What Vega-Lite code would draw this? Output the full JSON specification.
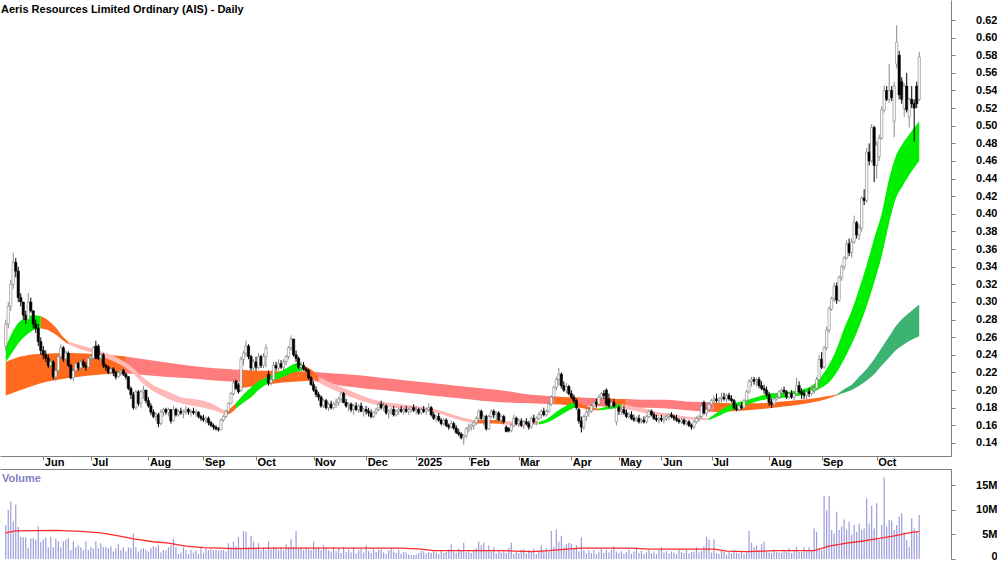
{
"$schema": "https://vega.github.io/schema/vega-lite/v6.json",
"padding": 0,
"background": "white",
"bounds": "flush",
"spacing": 13,
"config": {
  "view": {"stroke": null},
  "font": "Liberation Sans",
  "axis": {"labelFont": "Liberation Sans", "labelFontWeight": "bold", "labelFontSize": 11, "labelColor": "#000000", "domainColor": "#7f7f7f", "tickColor": "#7f7f7f", "grid": false}
},
"datasets": {
"d": [
{"i":0,"o":0.25,"h":0.28,"l":0.245,"c":0.275,"v":6.9},
{"i":1,"o":0.275,"h":0.3,"l":0.27,"c":0.295,"v":10},
{"i":2,"o":0.295,"h":0.325,"l":0.29,"c":0.32,"v":11.6},
{"i":3,"o":0.32,"h":0.356,"l":0.315,"c":0.345,"v":7.6},
{"i":4,"o":0.345,"h":0.35,"l":0.328,"c":0.335,"v":11},
{"i":5,"o":0.335,"h":0.34,"l":0.3,"c":0.305,"v":6.5},
{"i":6,"o":0.305,"h":0.31,"l":0.295,"c":0.3,"v":4.5},
{"i":7,"o":0.3,"h":0.3,"l":0.28,"c":0.285,"v":4.4},
{"i":8,"o":0.285,"h":0.29,"l":0.275,"c":0.28,"v":4.4},
{"i":9,"o":0.28,"h":0.31,"l":0.28,"c":0.3,"v":2.2},
{"i":10,"o":0.3,"h":0.305,"l":0.288,"c":0.29,"v":4.2},
{"i":11,"o":0.29,"h":0.29,"l":0.27,"c":0.275,"v":4.2},
{"i":12,"o":0.275,"h":0.28,"l":0.265,"c":0.27,"v":3.9},
{"i":13,"o":0.27,"h":0.275,"l":0.25,"c":0.255,"v":6.6},
{"i":14,"o":0.255,"h":0.26,"l":0.24,"c":0.245,"v":3.5},
{"i":15,"o":0.245,"h":0.25,"l":0.235,"c":0.24,"v":4},
{"i":16,"o":0.24,"h":0.245,"l":0.232,"c":0.236,"v":4.4},
{"i":17,"o":0.236,"h":0.24,"l":0.225,"c":0.228,"v":2.4},
{"i":18,"o":0.228,"h":0.235,"l":0.225,"c":0.232,"v":4.5},
{"i":19,"o":0.232,"h":0.234,"l":0.212,"c":0.215,"v":2.4},
{"i":20,"o":0.215,"h":0.225,"l":0.21,"c":0.222,"v":4.1},
{"i":21,"o":0.222,"h":0.24,"l":0.22,"c":0.238,"v":3.6},
{"i":22,"o":0.238,"h":0.252,"l":0.235,"c":0.248,"v":2.4},
{"i":23,"o":0.248,"h":0.25,"l":0.232,"c":0.235,"v":3.6},
{"i":24,"o":0.235,"h":0.245,"l":0.232,"c":0.242,"v":3.9},
{"i":25,"o":0.242,"h":0.244,"l":0.226,"c":0.228,"v":4.2},
{"i":26,"o":0.228,"h":0.23,"l":0.212,"c":0.214,"v":1.8},
{"i":27,"o":0.214,"h":0.225,"l":0.21,"c":0.222,"v":3.6},
{"i":28,"o":0.222,"h":0.232,"l":0.22,"c":0.23,"v":2.4},
{"i":29,"o":0.23,"h":0.232,"l":0.222,"c":0.225,"v":2.8},
{"i":30,"o":0.225,"h":0.235,"l":0.222,"c":0.232,"v":2.4},
{"i":31,"o":0.232,"h":0.235,"l":0.225,"c":0.228,"v":1.8},
{"i":32,"o":0.228,"h":0.232,"l":0.222,"c":0.226,"v":3.6},
{"i":33,"o":0.226,"h":0.238,"l":0.224,"c":0.236,"v":1.8},
{"i":34,"o":0.236,"h":0.24,"l":0.23,"c":0.238,"v":2.4},
{"i":35,"o":0.236,"h":0.25,"l":0.234,"c":0.248,"v":2.2},
{"i":36,"o":0.25,"h":0.256,"l":0.235,"c":0.236,"v":3.6},
{"i":37,"o":0.25,"h":0.252,"l":0.234,"c":0.236,"v":2.2},
{"i":38,"o":0.236,"h":0.242,"l":0.232,"c":0.24,"v":3.2},
{"i":39,"o":0.24,"h":0.242,"l":0.225,"c":0.228,"v":2.4},
{"i":40,"o":0.228,"h":0.23,"l":0.222,"c":0.226,"v":2.5},
{"i":41,"o":0.226,"h":0.228,"l":0.218,"c":0.22,"v":2.2},
{"i":42,"o":0.22,"h":0.226,"l":0.218,"c":0.224,"v":2.6},
{"i":43,"o":0.224,"h":0.226,"l":0.216,"c":0.22,"v":1.5},
{"i":44,"o":0.22,"h":0.222,"l":0.212,"c":0.215,"v":2.2},
{"i":45,"o":0.215,"h":0.222,"l":0.214,"c":0.22,"v":3},
{"i":46,"o":0.22,"h":0.224,"l":0.216,"c":0.222,"v":1.8},
{"i":47,"o":0.222,"h":0.224,"l":0.216,"c":0.218,"v":2.4},
{"i":48,"o":0.218,"h":0.22,"l":0.212,"c":0.215,"v":1.5},
{"i":49,"o":0.215,"h":0.216,"l":0.2,"c":0.202,"v":2.4},
{"i":50,"o":0.202,"h":0.204,"l":0.19,"c":0.195,"v":2.2},
{"i":51,"o":0.195,"h":0.198,"l":0.178,"c":0.18,"v":5.1},
{"i":52,"o":0.18,"h":0.2,"l":0.178,"c":0.198,"v":2.4},
{"i":53,"o":0.198,"h":0.2,"l":0.182,"c":0.185,"v":1.5},
{"i":54,"o":0.185,"h":0.2,"l":0.18,"c":0.198,"v":2},
{"i":55,"o":0.198,"h":0.205,"l":0.19,"c":0.2,"v":2.2},
{"i":56,"o":0.2,"h":0.2,"l":0.185,"c":0.188,"v":1.8},
{"i":57,"o":0.188,"h":0.192,"l":0.18,"c":0.182,"v":1.5},
{"i":58,"o":0.182,"h":0.185,"l":0.172,"c":0.175,"v":2.2},
{"i":59,"o":0.175,"h":0.178,"l":0.168,"c":0.17,"v":2.6},
{"i":60,"o":0.17,"h":0.175,"l":0.165,"c":0.172,"v":2.4},
{"i":61,"o":0.172,"h":0.174,"l":0.158,"c":0.162,"v":2.8},
{"i":62,"o":0.162,"h":0.178,"l":0.16,"c":0.175,"v":1.3},
{"i":63,"o":0.175,"h":0.18,"l":0.17,"c":0.178,"v":1.8},
{"i":64,"o":0.178,"h":0.18,"l":0.172,"c":0.175,"v":1.7},
{"i":65,"o":0.175,"h":0.18,"l":0.17,"c":0.178,"v":2.4},
{"i":66,"o":0.178,"h":0.178,"l":0.162,"c":0.165,"v":2.8},
{"i":67,"o":0.165,"h":0.182,"l":0.164,"c":0.178,"v":4.1},
{"i":68,"o":0.178,"h":0.18,"l":0.17,"c":0.172,"v":2.4},
{"i":69,"o":0.172,"h":0.178,"l":0.17,"c":0.176,"v":1},
{"i":70,"o":0.176,"h":0.18,"l":0.172,"c":0.174,"v":1.3},
{"i":71,"o":0.174,"h":0.178,"l":0.168,"c":0.176,"v":2.4},
{"i":72,"o":0.176,"h":0.182,"l":0.172,"c":0.178,"v":1.8},
{"i":73,"o":0.178,"h":0.18,"l":0.172,"c":0.175,"v":1},
{"i":74,"o":0.175,"h":0.178,"l":0.17,"c":0.176,"v":1.8},
{"i":75,"o":0.176,"h":0.18,"l":0.172,"c":0.174,"v":1.3},
{"i":76,"o":0.174,"h":0.178,"l":0.17,"c":0.175,"v":1.7},
{"i":77,"o":0.175,"h":0.176,"l":0.168,"c":0.17,"v":1},
{"i":78,"o":0.17,"h":0.172,"l":0.165,"c":0.168,"v":2.2},
{"i":79,"o":0.168,"h":0.172,"l":0.164,"c":0.166,"v":1.3},
{"i":80,"o":0.166,"h":0.17,"l":0.162,"c":0.168,"v":2.2},
{"i":81,"o":0.168,"h":0.17,"l":0.16,"c":0.163,"v":1.8},
{"i":82,"o":0.163,"h":0.165,"l":0.158,"c":0.16,"v":2},
{"i":83,"o":0.16,"h":0.162,"l":0.155,"c":0.158,"v":1.8},
{"i":84,"o":0.158,"h":0.16,"l":0.154,"c":0.156,"v":1.8},
{"i":85,"o":0.156,"h":0.158,"l":0.153,"c":0.155,"v":1.7},
{"i":86,"o":0.155,"h":0.168,"l":0.155,"c":0.166,"v":1.8},
{"i":87,"o":0.166,"h":0.172,"l":0.164,"c":0.17,"v":1.8},
{"i":88,"o":0.17,"h":0.178,"l":0.168,"c":0.176,"v":1.5},
{"i":89,"o":0.176,"h":0.186,"l":0.174,"c":0.185,"v":3.2},
{"i":90,"o":0.185,"h":0.198,"l":0.184,"c":0.196,"v":2.4},
{"i":91,"o":0.196,"h":0.212,"l":0.194,"c":0.208,"v":3.5},
{"i":92,"o":0.21,"h":0.212,"l":0.2,"c":0.202,"v":2.6},
{"i":93,"o":0.206,"h":0.208,"l":0.196,"c":0.198,"v":4.5},
{"i":94,"o":0.2,"h":0.238,"l":0.198,"c":0.235,"v":2.2},
{"i":95,"o":0.235,"h":0.245,"l":0.228,"c":0.242,"v":5.7},
{"i":96,"o":0.242,"h":0.256,"l":0.238,"c":0.25,"v":5.5},
{"i":97,"o":0.25,"h":0.252,"l":0.235,"c":0.238,"v":2.4},
{"i":98,"o":0.238,"h":0.24,"l":0.222,"c":0.225,"v":4.7},
{"i":99,"o":0.225,"h":0.235,"l":0.222,"c":0.232,"v":3.5},
{"i":100,"o":0.232,"h":0.238,"l":0.222,"c":0.226,"v":2.4},
{"i":101,"o":0.226,"h":0.242,"l":0.224,"c":0.238,"v":3.2},
{"i":102,"o":0.238,"h":0.24,"l":0.225,"c":0.228,"v":1.8},
{"i":103,"o":0.228,"h":0.242,"l":0.225,"c":0.238,"v":2.4},
{"i":104,"o":0.238,"h":0.252,"l":0.226,"c":0.248,"v":1.7},
{"i":105,"o":0.218,"h":0.222,"l":0.205,"c":0.208,"v":3.6},
{"i":106,"o":0.208,"h":0.215,"l":0.205,"c":0.212,"v":2},
{"i":107,"o":0.212,"h":0.232,"l":0.21,"c":0.228,"v":2.4},
{"i":108,"o":0.228,"h":0.232,"l":0.222,"c":0.225,"v":2.2},
{"i":109,"o":0.225,"h":0.235,"l":0.222,"c":0.23,"v":1.8},
{"i":110,"o":0.23,"h":0.234,"l":0.224,"c":0.226,"v":2.4},
{"i":111,"o":0.226,"h":0.235,"l":0.222,"c":0.232,"v":1.8},
{"i":112,"o":0.232,"h":0.24,"l":0.228,"c":0.238,"v":3},
{"i":113,"o":0.238,"h":0.25,"l":0.235,"c":0.248,"v":2.4},
{"i":114,"o":0.248,"h":0.262,"l":0.245,"c":0.258,"v":4},
{"i":115,"o":0.258,"h":0.258,"l":0.238,"c":0.24,"v":2.4},
{"i":116,"o":0.24,"h":0.245,"l":0.232,"c":0.236,"v":5.7},
{"i":117,"o":0.236,"h":0.238,"l":0.224,"c":0.226,"v":2.2},
{"i":118,"o":0.226,"h":0.232,"l":0.22,"c":0.228,"v":2.4},
{"i":119,"o":0.228,"h":0.232,"l":0.222,"c":0.224,"v":1.8},
{"i":120,"o":0.224,"h":0.226,"l":0.22,"c":0.222,"v":2.4},
{"i":121,"o":0.222,"h":0.224,"l":0.212,"c":0.214,"v":2},
{"i":122,"o":0.214,"h":0.216,"l":0.205,"c":0.206,"v":1.8},
{"i":123,"o":0.206,"h":0.21,"l":0.198,"c":0.2,"v":3.5},
{"i":124,"o":0.2,"h":0.204,"l":0.192,"c":0.195,"v":2.2},
{"i":125,"o":0.195,"h":0.198,"l":0.188,"c":0.192,"v":2.4},
{"i":126,"o":0.192,"h":0.194,"l":0.18,"c":0.182,"v":1.8},
{"i":127,"o":0.182,"h":0.19,"l":0.18,"c":0.188,"v":2.8},
{"i":128,"o":0.188,"h":0.19,"l":0.178,"c":0.18,"v":2.4},
{"i":129,"o":0.18,"h":0.186,"l":0.176,"c":0.184,"v":1.8},
{"i":130,"o":0.184,"h":0.188,"l":0.178,"c":0.18,"v":1.5},
{"i":131,"o":0.18,"h":0.186,"l":0.178,"c":0.184,"v":2.4},
{"i":132,"o":0.184,"h":0.19,"l":0.18,"c":0.186,"v":1.6},
{"i":133,"o":0.186,"h":0.192,"l":0.182,"c":0.19,"v":2.1},
{"i":134,"o":0.19,"h":0.198,"l":0.186,"c":0.196,"v":1.2},
{"i":135,"o":0.196,"h":0.198,"l":0.185,"c":0.186,"v":2.5},
{"i":136,"o":0.186,"h":0.19,"l":0.18,"c":0.182,"v":1.4},
{"i":137,"o":0.182,"h":0.186,"l":0.176,"c":0.184,"v":1.9},
{"i":138,"o":0.184,"h":0.186,"l":0.175,"c":0.178,"v":1.3},
{"i":139,"o":0.178,"h":0.184,"l":0.172,"c":0.182,"v":2.4},
{"i":140,"o":0.182,"h":0.186,"l":0.176,"c":0.178,"v":1.1},
{"i":141,"o":0.178,"h":0.184,"l":0.174,"c":0.182,"v":1.8},
{"i":142,"o":0.182,"h":0.186,"l":0.175,"c":0.176,"v":2.1},
{"i":143,"o":0.176,"h":0.18,"l":0.17,"c":0.178,"v":1.3},
{"i":144,"o":0.178,"h":0.182,"l":0.172,"c":0.176,"v":2.8},
{"i":145,"o":0.176,"h":0.18,"l":0.17,"c":0.174,"v":1.6},
{"i":146,"o":0.174,"h":0.178,"l":0.168,"c":0.17,"v":1.2},
{"i":147,"o":0.17,"h":0.176,"l":0.168,"c":0.175,"v":2},
{"i":148,"o":0.175,"h":0.18,"l":0.172,"c":0.178,"v":1.4},
{"i":149,"o":0.178,"h":0.186,"l":0.176,"c":0.184,"v":1.8},
{"i":150,"o":0.184,"h":0.188,"l":0.178,"c":0.18,"v":2},
{"i":151,"o":0.18,"h":0.186,"l":0.176,"c":0.182,"v":1.3},
{"i":152,"o":0.182,"h":0.184,"l":0.172,"c":0.174,"v":1},
{"i":153,"o":0.174,"h":0.178,"l":0.168,"c":0.176,"v":1.7},
{"i":154,"o":0.176,"h":0.18,"l":0.172,"c":0.178,"v":2.2},
{"i":155,"o":0.178,"h":0.182,"l":0.17,"c":0.172,"v":1.5},
{"i":156,"o":0.172,"h":0.178,"l":0.17,"c":0.176,"v":1.2},
{"i":157,"o":0.176,"h":0.18,"l":0.172,"c":0.178,"v":1.9},
{"i":158,"o":0.178,"h":0.182,"l":0.174,"c":0.176,"v":1.1},
{"i":159,"o":0.176,"h":0.18,"l":0.172,"c":0.178,"v":1.4},
{"i":160,"o":0.178,"h":0.182,"l":0.174,"c":0.176,"v":1.3},
{"i":161,"o":0.176,"h":0.18,"l":0.172,"c":0.178,"v":0.9},
{"i":162,"o":0.178,"h":0.182,"l":0.174,"c":0.18,"v":0.8},
{"i":163,"o":0.18,"h":0.184,"l":0.175,"c":0.177,"v":0.8},
{"i":164,"o":0.177,"h":0.182,"l":0.172,"c":0.178,"v":0.9},
{"i":165,"o":0.178,"h":0.18,"l":0.172,"c":0.174,"v":1.2},
{"i":166,"o":0.174,"h":0.18,"l":0.172,"c":0.178,"v":1.6},
{"i":167,"o":0.178,"h":0.182,"l":0.174,"c":0.176,"v":1.5},
{"i":168,"o":0.176,"h":0.18,"l":0.172,"c":0.178,"v":1.1},
{"i":169,"o":0.178,"h":0.185,"l":0.176,"c":0.18,"v":1.4},
{"i":170,"o":0.18,"h":0.182,"l":0.17,"c":0.172,"v":1.2},
{"i":171,"o":0.172,"h":0.175,"l":0.166,"c":0.168,"v":1.7},
{"i":172,"o":0.168,"h":0.172,"l":0.164,"c":0.17,"v":1.3},
{"i":173,"o":0.17,"h":0.174,"l":0.164,"c":0.166,"v":1},
{"i":174,"o":0.166,"h":0.168,"l":0.16,"c":0.162,"v":1.8},
{"i":175,"o":0.162,"h":0.168,"l":0.16,"c":0.166,"v":1.2},
{"i":176,"o":0.166,"h":0.168,"l":0.158,"c":0.16,"v":1.4},
{"i":177,"o":0.16,"h":0.162,"l":0.155,"c":0.158,"v":2},
{"i":178,"o":0.158,"h":0.165,"l":0.156,"c":0.162,"v":3},
{"i":179,"o":0.162,"h":0.164,"l":0.155,"c":0.157,"v":1.5},
{"i":180,"o":0.157,"h":0.16,"l":0.15,"c":0.152,"v":1.2},
{"i":181,"o":0.152,"h":0.156,"l":0.148,"c":0.15,"v":2.1},
{"i":182,"o":0.15,"h":0.152,"l":0.144,"c":0.146,"v":1.6},
{"i":183,"o":0.146,"h":0.15,"l":0.138,"c":0.148,"v":3.3},
{"i":184,"o":0.148,"h":0.158,"l":0.146,"c":0.156,"v":1.4},
{"i":185,"o":0.156,"h":0.162,"l":0.152,"c":0.158,"v":1.9},
{"i":186,"o":0.158,"h":0.162,"l":0.154,"c":0.16,"v":1.2},
{"i":187,"o":0.16,"h":0.165,"l":0.155,"c":0.163,"v":1.8},
{"i":188,"o":0.163,"h":0.17,"l":0.16,"c":0.168,"v":2.2},
{"i":189,"o":0.168,"h":0.178,"l":0.164,"c":0.176,"v":3.5},
{"i":190,"o":0.176,"h":0.178,"l":0.166,"c":0.168,"v":2.8},
{"i":191,"o":0.168,"h":0.172,"l":0.16,"c":0.17,"v":3.3},
{"i":192,"o":0.17,"h":0.172,"l":0.154,"c":0.156,"v":1.6},
{"i":193,"o":0.156,"h":0.172,"l":0.155,"c":0.17,"v":2.8},
{"i":194,"o":0.17,"h":0.178,"l":0.168,"c":0.176,"v":1.5},
{"i":195,"o":0.176,"h":0.178,"l":0.168,"c":0.172,"v":2.4},
{"i":196,"o":0.172,"h":0.176,"l":0.166,"c":0.174,"v":1.1},
{"i":197,"o":0.174,"h":0.176,"l":0.165,"c":0.166,"v":1.6},
{"i":198,"o":0.166,"h":0.172,"l":0.164,"c":0.17,"v":1.3},
{"i":199,"o":0.17,"h":0.172,"l":0.162,"c":0.164,"v":1.8},
{"i":200,"o":0.158,"h":0.16,"l":0.152,"c":0.153,"v":1.2},
{"i":201,"o":0.156,"h":0.158,"l":0.152,"c":0.154,"v":2.3},
{"i":202,"o":0.154,"h":0.162,"l":0.152,"c":0.16,"v":3.3},
{"i":203,"o":0.16,"h":0.172,"l":0.158,"c":0.168,"v":1},
{"i":204,"o":0.168,"h":0.17,"l":0.16,"c":0.162,"v":1.5},
{"i":205,"o":0.162,"h":0.168,"l":0.158,"c":0.165,"v":1.2},
{"i":206,"o":0.165,"h":0.168,"l":0.158,"c":0.16,"v":1.8},
{"i":207,"o":0.16,"h":0.166,"l":0.156,"c":0.164,"v":2},
{"i":208,"o":0.164,"h":0.168,"l":0.16,"c":0.162,"v":1.1},
{"i":209,"o":0.162,"h":0.165,"l":0.155,"c":0.158,"v":1.8},
{"i":210,"o":0.158,"h":0.17,"l":0.156,"c":0.168,"v":1.4},
{"i":211,"o":0.168,"h":0.172,"l":0.162,"c":0.164,"v":2.1},
{"i":212,"o":0.164,"h":0.17,"l":0.16,"c":0.168,"v":1},
{"i":213,"o":0.168,"h":0.175,"l":0.166,"c":0.172,"v":1.6},
{"i":214,"o":0.172,"h":0.178,"l":0.168,"c":0.176,"v":2.8},
{"i":215,"o":0.176,"h":0.18,"l":0.17,"c":0.172,"v":1.6},
{"i":216,"o":0.172,"h":0.178,"l":0.17,"c":0.176,"v":2.2},
{"i":217,"o":0.176,"h":0.186,"l":0.174,"c":0.184,"v":1.5},
{"i":218,"o":0.184,"h":0.194,"l":0.182,"c":0.192,"v":5.7},
{"i":219,"o":0.192,"h":0.205,"l":0.19,"c":0.203,"v":2.5},
{"i":220,"o":0.203,"h":0.215,"l":0.2,"c":0.212,"v":6},
{"i":221,"o":0.212,"h":0.225,"l":0.205,"c":0.218,"v":3.5},
{"i":222,"o":0.218,"h":0.22,"l":0.202,"c":0.205,"v":4.7},
{"i":223,"o":0.205,"h":0.21,"l":0.198,"c":0.2,"v":2.4},
{"i":224,"o":0.2,"h":0.208,"l":0.196,"c":0.204,"v":3},
{"i":225,"o":0.204,"h":0.206,"l":0.194,"c":0.196,"v":3.3},
{"i":226,"o":0.196,"h":0.2,"l":0.19,"c":0.192,"v":3.1},
{"i":227,"o":0.192,"h":0.195,"l":0.185,"c":0.188,"v":2.2},
{"i":228,"o":0.188,"h":0.19,"l":0.178,"c":0.18,"v":2.8},
{"i":229,"o":0.178,"h":0.18,"l":0.162,"c":0.165,"v":1.5},
{"i":230,"o":0.165,"h":0.17,"l":0.152,"c":0.158,"v":4.4},
{"i":231,"o":0.158,"h":0.172,"l":0.155,"c":0.17,"v":1.8},
{"i":232,"o":0.17,"h":0.178,"l":0.165,"c":0.175,"v":1.1},
{"i":233,"o":0.175,"h":0.18,"l":0.17,"c":0.176,"v":1.7},
{"i":234,"o":0.176,"h":0.184,"l":0.174,"c":0.182,"v":1.2},
{"i":235,"o":0.182,"h":0.188,"l":0.178,"c":0.186,"v":1.9},
{"i":236,"o":0.186,"h":0.19,"l":0.18,"c":0.184,"v":1},
{"i":237,"o":0.184,"h":0.195,"l":0.182,"c":0.192,"v":1.5},
{"i":238,"o":0.192,"h":0.198,"l":0.188,"c":0.196,"v":2.1},
{"i":239,"o":0.196,"h":0.2,"l":0.19,"c":0.194,"v":1.2},
{"i":240,"o":0.2,"h":0.202,"l":0.182,"c":0.184,"v":1.8},
{"i":241,"o":0.19,"h":0.196,"l":0.18,"c":0.182,"v":1.3},
{"i":242,"o":0.182,"h":0.188,"l":0.178,"c":0.186,"v":1.8},
{"i":243,"o":0.186,"h":0.19,"l":0.18,"c":0.182,"v":2.6},
{"i":244,"o":0.164,"h":0.182,"l":0.16,"c":0.18,"v":1.5},
{"i":245,"o":0.18,"h":0.182,"l":0.172,"c":0.176,"v":1.2},
{"i":246,"o":0.176,"h":0.18,"l":0.172,"c":0.178,"v":1.6},
{"i":247,"o":0.178,"h":0.182,"l":0.172,"c":0.174,"v":1},
{"i":248,"o":0.174,"h":0.178,"l":0.168,"c":0.17,"v":1.4},
{"i":249,"o":0.17,"h":0.175,"l":0.168,"c":0.172,"v":1.9},
{"i":250,"o":0.172,"h":0.176,"l":0.166,"c":0.168,"v":1.1},
{"i":251,"o":0.168,"h":0.172,"l":0.164,"c":0.166,"v":1.5},
{"i":252,"o":0.166,"h":0.17,"l":0.164,"c":0.168,"v":2.4},
{"i":253,"o":0.168,"h":0.172,"l":0.162,"c":0.164,"v":1.2},
{"i":254,"o":0.164,"h":0.168,"l":0.162,"c":0.166,"v":1.7},
{"i":255,"o":0.166,"h":0.17,"l":0.162,"c":0.164,"v":1},
{"i":256,"o":0.164,"h":0.172,"l":0.162,"c":0.17,"v":1.4},
{"i":257,"o":0.17,"h":0.178,"l":0.168,"c":0.176,"v":1.8},
{"i":258,"o":0.176,"h":0.178,"l":0.17,"c":0.172,"v":1.2},
{"i":259,"o":0.172,"h":0.175,"l":0.166,"c":0.168,"v":1.5},
{"i":260,"o":0.168,"h":0.172,"l":0.164,"c":0.166,"v":1},
{"i":261,"o":0.166,"h":0.17,"l":0.162,"c":0.168,"v":1.8},
{"i":262,"o":0.168,"h":0.172,"l":0.164,"c":0.166,"v":2.4},
{"i":263,"o":0.166,"h":0.17,"l":0.162,"c":0.168,"v":1.3},
{"i":264,"o":0.168,"h":0.172,"l":0.165,"c":0.17,"v":1.6},
{"i":265,"o":0.17,"h":0.174,"l":0.166,"c":0.172,"v":1.1},
{"i":266,"o":0.172,"h":0.175,"l":0.168,"c":0.17,"v":1.5},
{"i":267,"o":0.17,"h":0.172,"l":0.165,"c":0.168,"v":1.3},
{"i":268,"o":0.168,"h":0.172,"l":0.164,"c":0.166,"v":1},
{"i":269,"o":0.166,"h":0.168,"l":0.162,"c":0.164,"v":2},
{"i":270,"o":0.164,"h":0.168,"l":0.162,"c":0.166,"v":1.4},
{"i":271,"o":0.166,"h":0.168,"l":0.16,"c":0.162,"v":1.2},
{"i":272,"o":0.162,"h":0.166,"l":0.16,"c":0.164,"v":1.8},
{"i":273,"o":0.164,"h":0.166,"l":0.158,"c":0.16,"v":1.1},
{"i":274,"o":0.16,"h":0.162,"l":0.155,"c":0.158,"v":1.4},
{"i":275,"o":0.158,"h":0.166,"l":0.156,"c":0.164,"v":1.5},
{"i":276,"o":0.164,"h":0.17,"l":0.162,"c":0.168,"v":2.4},
{"i":277,"o":0.168,"h":0.172,"l":0.164,"c":0.17,"v":1.3},
{"i":278,"o":0.17,"h":0.186,"l":0.168,"c":0.182,"v":1.6},
{"i":279,"o":0.186,"h":0.188,"l":0.172,"c":0.174,"v":2.6},
{"i":280,"o":0.174,"h":0.18,"l":0.17,"c":0.178,"v":4.5},
{"i":281,"o":0.178,"h":0.186,"l":0.176,"c":0.184,"v":3.9},
{"i":282,"o":0.184,"h":0.19,"l":0.18,"c":0.188,"v":1.3},
{"i":283,"o":0.188,"h":0.194,"l":0.184,"c":0.19,"v":4},
{"i":284,"o":0.19,"h":0.196,"l":0.186,"c":0.188,"v":1.2},
{"i":285,"o":0.188,"h":0.192,"l":0.184,"c":0.19,"v":1},
{"i":286,"o":0.19,"h":0.197,"l":0.186,"c":0.192,"v":1.8},
{"i":287,"o":0.192,"h":0.197,"l":0.188,"c":0.19,"v":1.4},
{"i":288,"o":0.19,"h":0.196,"l":0.186,"c":0.194,"v":0.9},
{"i":289,"o":0.194,"h":0.197,"l":0.188,"c":0.19,"v":1.5},
{"i":290,"o":0.19,"h":0.194,"l":0.186,"c":0.188,"v":1.2},
{"i":291,"o":0.188,"h":0.19,"l":0.178,"c":0.18,"v":1.8},
{"i":292,"o":0.18,"h":0.184,"l":0.176,"c":0.178,"v":1.3},
{"i":293,"o":0.178,"h":0.184,"l":0.176,"c":0.182,"v":1.1},
{"i":294,"o":0.182,"h":0.186,"l":0.178,"c":0.18,"v":1.6},
{"i":295,"o":0.18,"h":0.19,"l":0.178,"c":0.188,"v":1},
{"i":296,"o":0.188,"h":0.2,"l":0.186,"c":0.198,"v":1.4},
{"i":297,"o":0.198,"h":0.212,"l":0.196,"c":0.21,"v":5.7},
{"i":298,"o":0.21,"h":0.215,"l":0.204,"c":0.212,"v":3.3},
{"i":299,"o":0.212,"h":0.215,"l":0.206,"c":0.21,"v":2.4},
{"i":300,"o":0.21,"h":0.214,"l":0.204,"c":0.212,"v":2.8},
{"i":301,"o":0.212,"h":0.215,"l":0.202,"c":0.205,"v":1.8},
{"i":302,"o":0.205,"h":0.21,"l":0.2,"c":0.202,"v":3},
{"i":303,"o":0.202,"h":0.206,"l":0.196,"c":0.2,"v":3.5},
{"i":304,"o":0.2,"h":0.204,"l":0.192,"c":0.195,"v":1.5},
{"i":305,"o":0.195,"h":0.198,"l":0.182,"c":0.186,"v":1.3},
{"i":306,"o":0.186,"h":0.19,"l":0.18,"c":0.184,"v":1.2},
{"i":307,"o":0.184,"h":0.192,"l":0.182,"c":0.19,"v":1.9},
{"i":308,"o":0.19,"h":0.196,"l":0.188,"c":0.192,"v":1.4},
{"i":309,"o":0.192,"h":0.2,"l":0.19,"c":0.198,"v":1.3},
{"i":310,"o":0.198,"h":0.202,"l":0.194,"c":0.2,"v":1.3},
{"i":311,"o":0.2,"h":0.204,"l":0.196,"c":0.198,"v":1.9},
{"i":312,"o":0.198,"h":0.2,"l":0.19,"c":0.192,"v":1.5},
{"i":313,"o":0.192,"h":0.198,"l":0.19,"c":0.196,"v":2.2},
{"i":314,"o":0.196,"h":0.2,"l":0.19,"c":0.192,"v":1.2},
{"i":315,"o":0.192,"h":0.198,"l":0.188,"c":0.196,"v":1.9},
{"i":316,"o":0.196,"h":0.214,"l":0.194,"c":0.205,"v":2.4},
{"i":317,"o":0.205,"h":0.21,"l":0.196,"c":0.198,"v":1.4},
{"i":318,"o":0.198,"h":0.202,"l":0.19,"c":0.196,"v":1.4},
{"i":319,"o":0.196,"h":0.2,"l":0.19,"c":0.194,"v":2.4},
{"i":320,"o":0.194,"h":0.2,"l":0.19,"c":0.198,"v":1.6},
{"i":321,"o":0.198,"h":0.202,"l":0.192,"c":0.196,"v":2.4},
{"i":322,"o":0.196,"h":0.205,"l":0.194,"c":0.2,"v":1.9},
{"i":323,"o":0.2,"h":0.206,"l":0.196,"c":0.202,"v":6.2},
{"i":324,"o":0.202,"h":0.215,"l":0.2,"c":0.212,"v":5.5},
{"i":325,"o":0.212,"h":0.24,"l":0.21,"c":0.235,"v":2.2},
{"i":326,"o":0.235,"h":0.243,"l":0.224,"c":0.226,"v":1.8},
{"i":327,"o":0.226,"h":0.25,"l":0.224,"c":0.248,"v":12.8},
{"i":328,"o":0.248,"h":0.272,"l":0.245,"c":0.268,"v":9.9},
{"i":329,"o":0.268,"h":0.295,"l":0.265,"c":0.292,"v":12.8},
{"i":330,"o":0.292,"h":0.306,"l":0.29,"c":0.304,"v":5.9},
{"i":331,"o":0.304,"h":0.322,"l":0.3,"c":0.318,"v":5.2},
{"i":332,"o":0.318,"h":0.322,"l":0.298,"c":0.302,"v":9.6},
{"i":333,"o":0.302,"h":0.33,"l":0.3,"c":0.328,"v":5.9},
{"i":334,"o":0.328,"h":0.342,"l":0.324,"c":0.34,"v":6.6},
{"i":335,"o":0.34,"h":0.352,"l":0.336,"c":0.35,"v":8},
{"i":336,"o":0.35,"h":0.37,"l":0.348,"c":0.366,"v":5.9},
{"i":337,"o":0.366,"h":0.372,"l":0.352,"c":0.356,"v":7.6},
{"i":338,"o":0.356,"h":0.372,"l":0.35,"c":0.368,"v":4.9},
{"i":339,"o":0.368,"h":0.398,"l":0.366,"c":0.39,"v":6.9},
{"i":340,"o":0.39,"h":0.392,"l":0.372,"c":0.376,"v":5.5},
{"i":341,"o":0.376,"h":0.388,"l":0.37,"c":0.384,"v":7.2},
{"i":342,"o":0.384,"h":0.42,"l":0.38,"c":0.418,"v":5.9},
{"i":343,"o":0.418,"h":0.428,"l":0.41,"c":0.415,"v":6.2},
{"i":344,"o":0.415,"h":0.475,"l":0.412,"c":0.47,"v":12.3},
{"i":345,"o":0.47,"h":0.48,"l":0.455,"c":0.46,"v":7.2},
{"i":346,"o":0.46,"h":0.502,"l":0.458,"c":0.498,"v":10.8},
{"i":347,"o":0.498,"h":0.5,"l":0.436,"c":0.455,"v":6.2},
{"i":348,"o":0.455,"h":0.482,"l":0.44,"c":0.478,"v":11.3},
{"i":349,"o":0.465,"h":0.49,"l":0.46,"c":0.486,"v":3.9},
{"i":350,"o":0.486,"h":0.522,"l":0.484,"c":0.518,"v":6.9},
{"i":351,"o":0.518,"h":0.546,"l":0.515,"c":0.54,"v":16.6},
{"i":352,"o":0.54,"h":0.545,"l":0.528,"c":0.53,"v":6.6},
{"i":353,"o":0.53,"h":0.57,"l":0.526,"c":0.54,"v":7.9},
{"i":354,"o":0.54,"h":0.545,"l":0.528,"c":0.532,"v":7.8},
{"i":355,"o":0.505,"h":0.55,"l":0.487,"c":0.545,"v":5.9},
{"i":356,"o":0.57,"h":0.614,"l":0.565,"c":0.595,"v":6.9},
{"i":357,"o":0.58,"h":0.585,"l":0.53,"c":0.535,"v":8.6},
{"i":358,"o":0.55,"h":0.555,"l":0.525,"c":0.53,"v":9.3},
{"i":359,"o":0.52,"h":0.548,"l":0.51,"c":0.545,"v":5.5},
{"i":360,"o":0.545,"h":0.56,"l":0.515,"c":0.518,"v":3.9},
{"i":361,"o":0.51,"h":0.532,"l":0.498,"c":0.53,"v":2.4},
{"i":362,"o":0.53,"h":0.545,"l":0.52,"c":0.525,"v":8.2},
{"i":363,"o":0.525,"h":0.53,"l":0.482,"c":0.52,"v":6.2},
{"i":364,"o":0.545,"h":0.55,"l":0.52,"c":0.525,"v":5.5},
{"i":365,"o":0.53,"h":0.584,"l":0.528,"c":0.578,"v":8.9}
],
"lt": [
{"i":0,"lo":0.194,"hi":0.232,"k":"o","s":"L1"},{"i":6,"lo":0.2,"hi":0.238,"k":"o","s":"L1"},{"i":13,"lo":0.207,"hi":0.241,"k":"o","s":"L1"},{"i":26,"lo":0.214,"hi":0.242,"k":"o","s":"L1"},{"i":39,"lo":0.218,"hi":0.24,"k":"o","s":"L1"},{"i":48,"lo":0.219,"hi":0.238,"k":"o","s":"L1"},
{"i":48,"lo":0.219,"hi":0.238,"k":"s","s":"L2"},{"i":60,"lo":0.216,"hi":0.233,"k":"s","s":"L2"},{"i":70,"lo":0.214,"hi":0.229,"k":"s","s":"L2"},{"i":79,"lo":0.212,"hi":0.226,"k":"s","s":"L2"},{"i":88,"lo":0.21,"hi":0.224,"k":"s","s":"L2"},{"i":94,"lo":0.209,"hi":0.223,"k":"s","s":"L2"},
{"i":94,"lo":0.202,"hi":0.223,"k":"o","s":"L3"},{"i":100,"lo":0.205,"hi":0.222,"k":"o","s":"L3"},{"i":106,"lo":0.207,"hi":0.222,"k":"o","s":"L3"},{"i":112,"lo":0.209,"hi":0.221,"k":"o","s":"L3"},{"i":118,"lo":0.21,"hi":0.221,"k":"o","s":"L3"},{"i":122,"lo":0.211,"hi":0.221,"k":"o","s":"L3"},
{"i":122,"lo":0.211,"hi":0.221,"k":"s","s":"L4"},{"i":130,"lo":0.207,"hi":0.219,"k":"s","s":"L4"},{"i":140,"lo":0.203,"hi":0.217,"k":"s","s":"L4"},{"i":150,"lo":0.2,"hi":0.214,"k":"s","s":"L4"},{"i":160,"lo":0.197,"hi":0.211,"k":"s","s":"L4"},{"i":170,"lo":0.194,"hi":0.208,"k":"s","s":"L4"},{"i":180,"lo":0.191,"hi":0.205,"k":"s","s":"L4"},{"i":190,"lo":0.188,"hi":0.202,"k":"s","s":"L4"},{"i":200,"lo":0.186,"hi":0.199,"k":"s","s":"L4"},{"i":209,"lo":0.185,"hi":0.195,"k":"s","s":"L4"},{"i":219,"lo":0.184,"hi":0.193,"k":"s","s":"L4"},
{"i":219,"lo":0.184,"hi":0.193,"k":"o","s":"L5"},{"i":224,"lo":0.183,"hi":0.192,"k":"o","s":"L5"},{"i":229,"lo":0.181,"hi":0.192,"k":"o","s":"L5"},
{"i":229,"lo":0.182,"hi":0.192,"k":"s","s":"L6"},{"i":234,"lo":0.182,"hi":0.191,"k":"s","s":"L6"},{"i":240,"lo":0.181,"hi":0.191,"k":"s","s":"L6"},
{"i":240,"lo":0.181,"hi":0.191,"k":"o","s":"L7"},{"i":244,"lo":0.18,"hi":0.19,"k":"o","s":"L7"},{"i":248,"lo":0.18,"hi":0.19,"k":"o","s":"L7"},
{"i":248,"lo":0.18,"hi":0.19,"k":"s","s":"L8"},{"i":256,"lo":0.18,"hi":0.189,"k":"s","s":"L8"},{"i":264,"lo":0.179,"hi":0.189,"k":"s","s":"L8"},{"i":272,"lo":0.177,"hi":0.187,"k":"s","s":"L8"},{"i":283,"lo":0.175,"hi":0.186,"k":"s","s":"L8"},
{"i":283,"lo":0.175,"hi":0.186,"k":"o","s":"L9"},{"i":290,"lo":0.176,"hi":0.185,"k":"o","s":"L9"},{"i":300,"lo":0.178,"hi":0.185,"k":"o","s":"L9"},{"i":310,"lo":0.181,"hi":0.187,"k":"o","s":"L9"},{"i":318,"lo":0.184,"hi":0.189,"k":"o","s":"L9"},{"i":324,"lo":0.187,"hi":0.191,"k":"o","s":"L9"},{"i":328,"lo":0.19,"hi":0.193,"k":"o","s":"L9"},{"i":332,"lo":0.194,"hi":0.195,"k":"o","s":"L9"},
{"i":332,"lo":0.194,"hi":0.195,"k":"d","s":"L10"},{"i":335,"lo":0.197,"hi":0.201,"k":"d","s":"L10"},{"i":338,"lo":0.2,"hi":0.206,"k":"d","s":"L10"},{"i":341,"lo":0.205,"hi":0.215,"k":"d","s":"L10"},{"i":344,"lo":0.211,"hi":0.224,"k":"d","s":"L10"},{"i":347,"lo":0.218,"hi":0.235,"k":"d","s":"L10"},{"i":350,"lo":0.228,"hi":0.248,"k":"d","s":"L10"},{"i":353,"lo":0.237,"hi":0.261,"k":"d","s":"L10"},{"i":356,"lo":0.246,"hi":0.274,"k":"d","s":"L10"},{"i":359,"lo":0.252,"hi":0.283,"k":"d","s":"L10"},{"i":362,"lo":0.257,"hi":0.29,"k":"d","s":"L10"},{"i":365,"lo":0.261,"hi":0.297,"k":"d","s":"L10"}
],
"st": [
{"i":0,"lo":0.232,"hi":0.249,"k":"g","s":"S1"},{"i":2,"lo":0.24,"hi":0.262,"k":"g","s":"S1"},{"i":5,"lo":0.253,"hi":0.276,"k":"g","s":"S1"},{"i":8,"lo":0.262,"hi":0.282,"k":"g","s":"S1"},{"i":11,"lo":0.268,"hi":0.285,"k":"g","s":"S1"},{"i":14,"lo":0.27,"hi":0.284,"k":"g","s":"S1"},
{"i":14,"lo":0.27,"hi":0.284,"k":"o","s":"S2"},{"i":17,"lo":0.268,"hi":0.279,"k":"o","s":"S2"},{"i":20,"lo":0.263,"hi":0.271,"k":"o","s":"S2"},{"i":23,"lo":0.256,"hi":0.26,"k":"o","s":"S2"},{"i":25,"lo":0.252,"hi":0.255,"k":"o","s":"S2"},
{"i":25,"lo":0.252,"hi":0.255,"k":"p","s":"S3"},{"i":30,"lo":0.246,"hi":0.251,"k":"p","s":"S3"},{"i":35,"lo":0.242,"hi":0.247,"k":"p","s":"S3"},{"i":40,"lo":0.236,"hi":0.242,"k":"p","s":"S3"},{"i":45,"lo":0.23,"hi":0.236,"k":"p","s":"S3"},{"i":50,"lo":0.221,"hi":0.227,"k":"p","s":"S3"},{"i":55,"lo":0.207,"hi":0.214,"k":"p","s":"S3"},{"i":60,"lo":0.197,"hi":0.204,"k":"p","s":"S3"},{"i":65,"lo":0.19,"hi":0.198,"k":"p","s":"S3"},{"i":70,"lo":0.185,"hi":0.192,"k":"p","s":"S3"},{"i":75,"lo":0.182,"hi":0.19,"k":"p","s":"S3"},{"i":79,"lo":0.18,"hi":0.188,"k":"p","s":"S3"},{"i":83,"lo":0.177,"hi":0.184,"k":"p","s":"S3"},{"i":86,"lo":0.174,"hi":0.179,"k":"p","s":"S3"},{"i":88,"lo":0.172,"hi":0.176,"k":"p","s":"S3"},
{"i":88,"lo":0.172,"hi":0.176,"k":"o","s":"S4"},{"i":90,"lo":0.174,"hi":0.18,"k":"o","s":"S4"},{"i":92,"lo":0.179,"hi":0.185,"k":"o","s":"S4"},
{"i":92,"lo":0.179,"hi":0.185,"k":"g","s":"S5"},{"i":95,"lo":0.186,"hi":0.195,"k":"g","s":"S5"},{"i":98,"lo":0.192,"hi":0.203,"k":"g","s":"S5"},{"i":101,"lo":0.2,"hi":0.21,"k":"g","s":"S5"},{"i":105,"lo":0.208,"hi":0.215,"k":"g","s":"S5"},{"i":108,"lo":0.212,"hi":0.219,"k":"g","s":"S5"},{"i":111,"lo":0.215,"hi":0.223,"k":"g","s":"S5"},{"i":114,"lo":0.219,"hi":0.228,"k":"g","s":"S5"},{"i":117,"lo":0.221,"hi":0.231,"k":"g","s":"S5"},{"i":119,"lo":0.223,"hi":0.228,"k":"g","s":"S5"},
{"i":119,"lo":0.223,"hi":0.228,"k":"o","s":"S6"},{"i":121,"lo":0.219,"hi":0.225,"k":"o","s":"S6"},{"i":123,"lo":0.214,"hi":0.221,"k":"o","s":"S6"},{"i":125,"lo":0.209,"hi":0.215,"k":"o","s":"S6"},
{"i":125,"lo":0.209,"hi":0.215,"k":"p","s":"S7"},{"i":128,"lo":0.204,"hi":0.211,"k":"p","s":"S7"},{"i":132,"lo":0.199,"hi":0.206,"k":"p","s":"S7"},{"i":137,"lo":0.193,"hi":0.2,"k":"p","s":"S7"},{"i":143,"lo":0.187,"hi":0.193,"k":"p","s":"S7"},{"i":150,"lo":0.182,"hi":0.187,"k":"p","s":"S7"},{"i":158,"lo":0.179,"hi":0.184,"k":"p","s":"S7"},{"i":166,"lo":0.177,"hi":0.181,"k":"p","s":"S7"},{"i":172,"lo":0.174,"hi":0.178,"k":"p","s":"S7"},{"i":178,"lo":0.169,"hi":0.173,"k":"p","s":"S7"},{"i":184,"lo":0.164,"hi":0.168,"k":"p","s":"S7"},{"i":188,"lo":0.162,"hi":0.166,"k":"p","s":"S7"},
{"i":188,"lo":0.162,"hi":0.166,"k":"o","s":"S8"},{"i":192,"lo":0.162,"hi":0.166,"k":"o","s":"S8"},{"i":196,"lo":0.162,"hi":0.166,"k":"o","s":"S8"},{"i":199,"lo":0.161,"hi":0.165,"k":"o","s":"S8"},
{"i":199,"lo":0.161,"hi":0.165,"k":"p","s":"S9"},{"i":204,"lo":0.16,"hi":0.164,"k":"p","s":"S9"},{"i":209,"lo":0.16,"hi":0.163,"k":"p","s":"S9"},{"i":213,"lo":0.161,"hi":0.164,"k":"p","s":"S9"},
{"i":213,"lo":0.161,"hi":0.164,"k":"g","s":"S10"},{"i":216,"lo":0.163,"hi":0.167,"k":"g","s":"S10"},{"i":219,"lo":0.167,"hi":0.173,"k":"g","s":"S10"},{"i":222,"lo":0.172,"hi":0.179,"k":"g","s":"S10"},{"i":225,"lo":0.177,"hi":0.184,"k":"g","s":"S10"},{"i":228,"lo":0.181,"hi":0.186,"k":"g","s":"S10"},
{"i":228,"lo":0.181,"hi":0.186,"k":"o","s":"S11"},{"i":231,"lo":0.179,"hi":0.183,"k":"o","s":"S11"},{"i":234,"lo":0.177,"hi":0.18,"k":"o","s":"S11"},{"i":237,"lo":0.177,"hi":0.179,"k":"o","s":"S11"},
{"i":237,"lo":0.177,"hi":0.179,"k":"g","s":"S12"},{"i":240,"lo":0.178,"hi":0.181,"k":"g","s":"S12"},{"i":243,"lo":0.179,"hi":0.183,"k":"g","s":"S12"},{"i":246,"lo":0.18,"hi":0.184,"k":"g","s":"S12"},
{"i":246,"lo":0.18,"hi":0.184,"k":"p","s":"S13"},{"i":250,"lo":0.177,"hi":0.182,"k":"p","s":"S13"},{"i":255,"lo":0.174,"hi":0.179,"k":"p","s":"S13"},{"i":260,"lo":0.171,"hi":0.175,"k":"p","s":"S13"},{"i":266,"lo":0.169,"hi":0.173,"k":"p","s":"S13"},{"i":272,"lo":0.167,"hi":0.17,"k":"p","s":"S13"},{"i":277,"lo":0.166,"hi":0.169,"k":"p","s":"S13"},{"i":281,"lo":0.166,"hi":0.168,"k":"p","s":"S13"},
{"i":281,"lo":0.166,"hi":0.168,"k":"g","s":"S14"},{"i":285,"lo":0.171,"hi":0.176,"k":"g","s":"S14"},{"i":290,"lo":0.177,"hi":0.184,"k":"g","s":"S14"},{"i":295,"lo":0.182,"hi":0.188,"k":"g","s":"S14"},{"i":300,"lo":0.187,"hi":0.192,"k":"g","s":"S14"},{"i":305,"lo":0.19,"hi":0.196,"k":"g","s":"S14"},{"i":310,"lo":0.191,"hi":0.197,"k":"g","s":"S14"},{"i":315,"lo":0.193,"hi":0.199,"k":"g","s":"S14"},{"i":320,"lo":0.195,"hi":0.202,"k":"g","s":"S14"},{"i":323,"lo":0.198,"hi":0.207,"k":"g","s":"S14"},{"i":326,"lo":0.203,"hi":0.216,"k":"g","s":"S14"},{"i":329,"lo":0.209,"hi":0.229,"k":"g","s":"S14"},{"i":332,"lo":0.22,"hi":0.247,"k":"g","s":"S14"},{"i":335,"lo":0.235,"hi":0.27,"k":"g","s":"S14"},{"i":338,"lo":0.252,"hi":0.29,"k":"g","s":"S14"},{"i":341,"lo":0.272,"hi":0.315,"k":"g","s":"S14"},{"i":344,"lo":0.295,"hi":0.342,"k":"g","s":"S14"},{"i":347,"lo":0.322,"hi":0.372,"k":"g","s":"S14"},{"i":350,"lo":0.352,"hi":0.4,"k":"g","s":"S14"},{"i":353,"lo":0.39,"hi":0.44,"k":"g","s":"S14"},{"i":356,"lo":0.42,"hi":0.468,"k":"g","s":"S14"},{"i":358,"lo":0.43,"hi":0.478,"k":"g","s":"S14"},{"i":361,"lo":0.444,"hi":0.49,"k":"g","s":"S14"},{"i":365,"lo":0.46,"hi":0.505,"k":"g","s":"S14"}
],
"vma": [
{"i":0,"m":5.3},{"i":4,"m":5.7},{"i":20,"m":5.8},{"i":30,"m":5.6},{"i":38,"m":5.3},{"i":45,"m":4.7},{"i":51,"m":4.1},{"i":59,"m":3.5},{"i":65,"m":3.2},{"i":72,"m":2.6},{"i":79,"m":2.3},{"i":92,"m":2.1},{"i":105,"m":2.2},{"i":130,"m":2.2},{"i":158,"m":2.2},{"i":166,"m":2.0},{"i":171,"m":1.7},{"i":197,"m":1.7},{"i":210,"m":1.5},{"i":217,"m":1.7},{"i":224,"m":2.0},{"i":230,"m":2.2},{"i":250,"m":2.2},{"i":257,"m":2.0},{"i":283,"m":2.0},{"i":288,"m":1.6},{"i":296,"m":1.5},{"i":308,"m":1.7},{"i":323,"m":1.7},{"i":329,"m":2.6},{"i":336,"m":3.2},{"i":342,"m":3.6},{"i":349,"m":4.2},{"i":355,"m":4.7},{"i":362,"m":5.4},{"i":365,"m":5.6}
]
},
"vconcat": [
{
  "width": 951,
  "height": 456,
  "title": {"text": "Aeris Resources Limited Ordinary (AIS) - Daily", "anchor": "start", "offset": -15, "fontSize": 11, "fontWeight": "bold", "font": "Liberation Sans", "color": "#000000", "dx": 1},
  "encoding": {
    "x": {"field": "i", "type": "quantitative", "title": null, "scale": {"domain": [-0.3, 375.7], "nice": false, "zero": false},
      "axis": {"orient": "bottom", "values": [15,34,57,79,100,123,144,164,185,205,226,245,262,282,305,326,348],
        "labelExpr": "['Jun','Jul','Aug','Sep','Oct','Nov','Dec','2025','Feb','Mar','Apr','May','Jun','Jul','Aug','Sep','Oct'][indexof([15,34,57,79,100,123,144,164,185,205,226,245,262,282,305,326,348], datum.value)]",
        "tickSize": 4, "labelAlign": "left", "labelBaseline": "top", "labelPadding": -4, "labelOffset": 1, "labelFlush": false, "labelOverlap": false, "labelBound": false, "title": null}}
  },
  "layer": [
    {"data": {"name": "lt"}, "mark": {"type": "area", "interpolate": "monotone"},
     "encoding": {
       "y": {"field": "hi", "type": "quantitative", "title": null, "stack": null, "scale": {"domain": [0.1252, 0.6427], "nice": false, "zero": false},
         "axis": {"orient": "right", "title": null, "values": [0.14,0.16,0.18,0.2,0.22,0.24,0.26,0.28,0.3,0.32,0.34,0.36,0.38,0.4,0.42,0.44,0.46,0.48,0.5,0.52,0.54,0.56,0.58,0.6,0.62], "format": ".2f", "tickSize": 4, "labelAlign": "right", "labelPadding": 42, "labelBaseline": "middle", "labelFlush": false, "labelOverlap": false, "labelBound": false}},
       "y2": {"field": "lo"},
       "color": {"field": "k", "type": "nominal", "scale": {"domain": ["g","o","s","p","d"], "range": ["#00ee00","#ff6a1f","#ff7c7c","#ffb8b8","#3cb371"]}, "legend": null},
       "detail": {"field": "s"}
     }},
    {"data": {"name": "st"}, "mark": {"type": "area", "interpolate": "monotone"},
     "encoding": {
       "y": {"field": "hi", "type": "quantitative", "title": null, "stack": null, "scale": {"domain": [0.1252, 0.6427], "nice": false, "zero": false},
         "axis": {"orient": "right", "title": null, "values": [0.14,0.16,0.18,0.2,0.22,0.24,0.26,0.28,0.3,0.32,0.34,0.36,0.38,0.4,0.42,0.44,0.46,0.48,0.5,0.52,0.54,0.56,0.58,0.6,0.62], "format": ".2f", "tickSize": 4, "labelAlign": "right", "labelPadding": 42, "labelBaseline": "middle", "labelFlush": false, "labelOverlap": false, "labelBound": false}},
       "y2": {"field": "lo"},
       "color": {"field": "k", "type": "nominal", "scale": {"domain": ["g","o","s","p","d"], "range": ["#00ee00","#ff6a1f","#ff7c7c","#ffb8b8","#3cb371"]}, "legend": null},
       "detail": {"field": "s"}
     }},
    {"data": {"name": "d"}, "mark": {"type": "rule", "strokeWidth": 1},
     "encoding": {
       "y": {"field": "l", "type": "quantitative", "title": null, "scale": {"domain": [0.1252, 0.6427], "nice": false, "zero": false},
         "axis": {"orient": "right", "title": null, "values": [0.14,0.16,0.18,0.2,0.22,0.24,0.26,0.28,0.3,0.32,0.34,0.36,0.38,0.4,0.42,0.44,0.46,0.48,0.5,0.52,0.54,0.56,0.58,0.6,0.62], "format": ".2f", "tickSize": 4, "labelAlign": "right", "labelPadding": 42, "labelBaseline": "middle", "labelFlush": false, "labelOverlap": false, "labelBound": false}},
       "y2": {"field": "h"},
       "color": {"condition": {"test": "datum.c < datum.o", "value": "#000000"}, "value": "#8a8a8a"}
     }},
    {"data": {"name": "d"}, "mark": {"type": "bar", "width": 2.3, "strokeWidth": 0.6},
     "encoding": {
       "y": {"field": "o", "type": "quantitative", "title": null, "scale": {"domain": [0.1252, 0.6427], "nice": false, "zero": false},
         "axis": {"orient": "right", "title": null, "values": [0.14,0.16,0.18,0.2,0.22,0.24,0.26,0.28,0.3,0.32,0.34,0.36,0.38,0.4,0.42,0.44,0.46,0.48,0.5,0.52,0.54,0.56,0.58,0.6,0.62], "format": ".2f", "tickSize": 4, "labelAlign": "right", "labelPadding": 42, "labelBaseline": "middle", "labelFlush": false, "labelOverlap": false, "labelBound": false}},
       "y2": {"field": "c"},
       "fill": {"condition": {"test": "datum.c < datum.o", "value": "#000000"}, "value": "#ffffff"},
       "stroke": {"condition": {"test": "datum.c < datum.o", "value": "#000000"}, "value": "#808080"}
     }}
  ]
},
{
  "width": 951,
  "height": 90,
  "title": {"text": "Volume", "anchor": "start", "offset": -15, "fontSize": 11, "fontWeight": "bold", "font": "Liberation Sans", "color": "#7f7fc4", "dx": 2},
  "encoding": {
    "x": {"field": "i", "type": "quantitative", "title": null, "scale": {"domain": [-0.3, 375.7], "nice": false, "zero": false},
      "axis": {"orient": "top", "labels": false, "ticks": false, "domain": true, "title": null}}
  },
  "layer": [
    {"data": {"name": "d"}, "mark": {"type": "bar", "width": 1.2, "color": "#9c9cdc"},
     "encoding": {
       "y": {"field": "v", "type": "quantitative", "title": null, "scale": {"domain": [0, 18.25], "nice": false},
         "axis": {"orient": "right", "title": null, "values": [0,5,10,15], "labelExpr": "datum.value == 0 ? '0' : datum.value + 'M'", "tickSize": 4, "labelAlign": "right", "labelPadding": 42, "labelBaseline": {"condition": {"test": "datum.value == 0", "value": "alphabetic"}, "value": "middle"}, "labelFlush": false, "labelOverlap": false, "labelBound": false}}
     }},
    {"data": {"name": "vma"}, "mark": {"type": "line", "color": "#ff2a2a", "strokeWidth": 1.3},
     "encoding": {
       "y": {"field": "m", "type": "quantitative", "title": null, "scale": {"domain": [0, 18.25], "nice": false},
         "axis": {"orient": "right", "title": null, "values": [0,5,10,15], "labelExpr": "datum.value == 0 ? '0' : datum.value + 'M'", "tickSize": 4, "labelAlign": "right", "labelPadding": 42, "labelBaseline": {"condition": {"test": "datum.value == 0", "value": "alphabetic"}, "value": "middle"}, "labelFlush": false, "labelOverlap": false, "labelBound": false}}
     }}
  ]
}
]
}
